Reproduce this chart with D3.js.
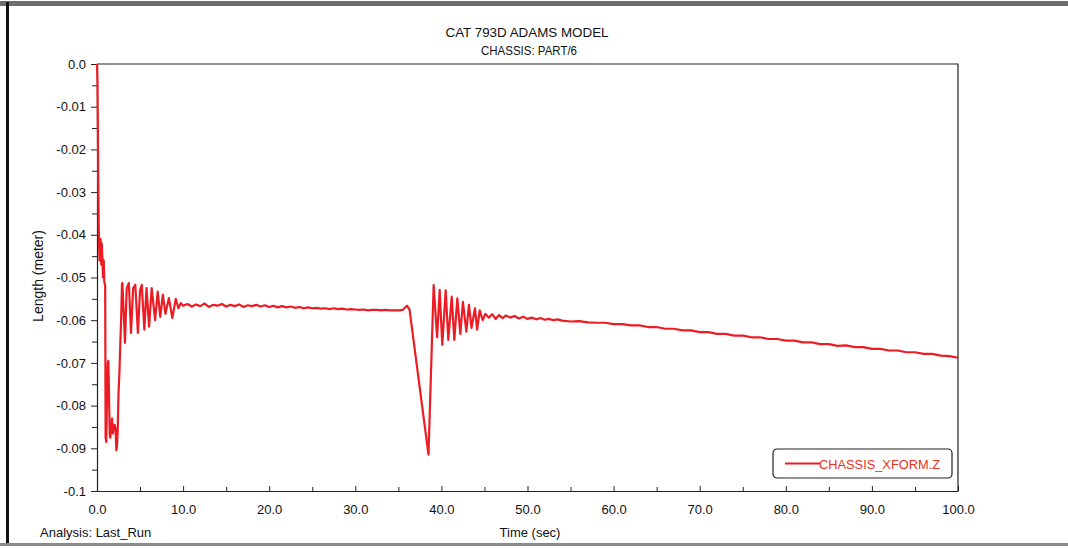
<!DOCTYPE html>
<html>
<head>
<meta charset="utf-8">
<script src="https://cdn.jsdelivr.net/npm/d3@7"></script>
<style>
  html, body { margin: 0; padding: 0; background: #fff; }
  svg { display: block; }
  text { font-family: "Liberation Sans", Arial, sans-serif; fill: #111; }
</style>
</head>
<body>
<svg id="chart" width="1068" height="548"></svg>
<script>
// Chassis vertical displacement from the ADAMS run (time in s, length in m)
const timeSec = [
  0.00, 0.05, 0.10, 0.15, 0.20, 0.25, 0.30, 0.35, 0.42, 0.50, 0.55, 0.62, 0.70, 0.78, 0.85, 0.95,
  1.00, 1.08, 1.15, 1.25, 1.32, 1.40, 1.48, 1.55, 1.65, 1.75, 1.85, 1.95, 2.05, 2.15, 2.25, 2.32,
  2.40, 2.50, 2.60, 2.70, 2.80, 2.90, 2.95,
  3.25, 3.45, 3.70, 3.95, 4.20, 4.45, 4.75, 5.00, 5.20, 5.50, 5.75, 6.05, 6.35, 6.75, 7.05, 7.35,
  7.65, 7.95, 8.35, 8.75, 9.15, 9.45, 9.75,
  10.0, 10.5, 11.0, 11.5, 12.0, 12.5, 13.0, 13.5, 14.0, 14.5, 15.0, 15.5, 16.0, 16.5, 17.0, 17.5,
  18.0, 18.5, 19.0, 19.5, 20.0, 20.5, 21.0, 21.5, 22.0, 22.5, 23.0, 23.5, 24.0, 24.5, 25.0, 25.5,
  26.0, 26.5, 27.0, 27.5, 28.0, 28.5, 29.0, 29.5, 30.0, 30.5, 31.0, 31.5, 32.0, 32.5, 33.0, 33.5,
  34.0, 34.5, 35.0, 35.5, 36.0, 36.3,
  38.5, 39.1, 39.5, 39.8, 40.1, 40.5, 40.8, 41.2, 41.5, 41.85, 42.2, 42.5, 42.9, 43.2, 43.5, 43.9,
  44.15, 44.45, 44.8, 45.1, 45.5, 45.9, 46.3, 46.7, 47.1, 47.5,
  48.0, 48.5, 49.0, 49.5, 50.0, 50.5, 51.0, 51.5, 52.0, 52.5, 53.0, 53.5, 54.0, 55.0, 56.0, 57.0,
  58.0, 59.0, 60.0, 61.0, 62.0, 63.0, 64.0, 65.0, 66.0, 67.0, 68.0, 69.0, 70.0, 71.0, 72.0, 73.0,
  74.0, 75.0, 76.0, 77.0, 78.0, 79.0, 80.0, 81.0, 82.0, 83.0, 84.0, 85.0, 86.0, 87.0, 88.0, 89.0,
  90.0, 91.0, 92.0, 93.0, 94.0, 95.0, 96.0, 97.0, 98.0, 99.0, 100.0
];
const chassisZ = [
  0.000, -0.004, -0.015, -0.028, -0.038, -0.043, -0.046, -0.042, -0.041, -0.047, -0.042, -0.045, -0.050, -0.046, -0.051, -0.052,
  -0.0875, -0.0885, -0.080, -0.070, -0.0695, -0.078, -0.087, -0.0875, -0.0845, -0.083, -0.0865, -0.0845, -0.0845, -0.0855, -0.0905, -0.0895,
  -0.086, -0.077, -0.0725, -0.066, -0.060, -0.0515, -0.0513,
  -0.0653, -0.0525, -0.0513, -0.0630, -0.0525, -0.0517, -0.0630, -0.0530, -0.0517, -0.0622, -0.0525, -0.0615, -0.0525, -0.0600, -0.0533, -0.0592,
  -0.0540, -0.0585, -0.0548, -0.0595, -0.0550, -0.0572, -0.0560,
  -0.0566, -0.0562, -0.0568, -0.0563, -0.0567, -0.0561, -0.0569, -0.0564, -0.0566, -0.0562, -0.0568, -0.0564, -0.0567, -0.0563, -0.0569, -0.0565,
  -0.0567, -0.0564, -0.0568, -0.0565, -0.0569, -0.0566, -0.0570, -0.0567, -0.0570, -0.0568, -0.0571, -0.0569, -0.0572, -0.0570, -0.0572, -0.0571,
  -0.0573, -0.0572, -0.0574, -0.0572, -0.0574, -0.0573, -0.0575, -0.0574, -0.0575, -0.0576, -0.0575, -0.0577, -0.0576, -0.0576, -0.0577, -0.0576,
  -0.0577, -0.0577, -0.0577, -0.0576, -0.0566, -0.0575,
  -0.0915, -0.0518, -0.0640, -0.0529, -0.0658, -0.0530, -0.0646, -0.0545, -0.0646, -0.0549, -0.0632, -0.0557, -0.0627, -0.0564, -0.0618, -0.0572,
  -0.0622, -0.0577, -0.0600, -0.0585, -0.0594, -0.0586, -0.0597, -0.0588, -0.0595, -0.0589,
  -0.0594, -0.0590, -0.0596, -0.0592, -0.0597, -0.0594, -0.0598, -0.0595, -0.0599, -0.0597, -0.0600, -0.0598, -0.0601, -0.0603, -0.0602, -0.0605,
  -0.0606, -0.0606, -0.0609, -0.0609, -0.0612, -0.0612, -0.0616, -0.0616, -0.0620, -0.0620, -0.0624, -0.0624, -0.0628, -0.0628, -0.0632, -0.0632,
  -0.0636, -0.0636, -0.0640, -0.0640, -0.0644, -0.0644, -0.0648, -0.0648, -0.0652, -0.0652, -0.0656, -0.0656, -0.0660, -0.0659, -0.0663, -0.0663,
  -0.0667, -0.0667, -0.0671, -0.0671, -0.0675, -0.0675, -0.0679, -0.0679, -0.0683, -0.0684, -0.0688
];

const xTicks = [0, 10, 20, 30, 40, 50, 60, 70, 80, 90, 100];
const xMinorTicks = [5, 15, 25, 35, 45, 55, 65, 75, 85, 95];
const yTicks = [0, -0.01, -0.02, -0.03, -0.04, -0.05, -0.06, -0.07, -0.08, -0.09, -0.1];
const yMinorTicks = [-0.005, -0.015, -0.025, -0.035, -0.045, -0.055, -0.065, -0.075, -0.085, -0.095];
const yTickLabels = ["0.0", "-0.01", "-0.02", "-0.03", "-0.04", "-0.05", "-0.06", "-0.07", "-0.08", "-0.09", "-0.1"];
const titleLines = ["CAT 793D ADAMS MODEL", "CHASSIS: PART/6"];
const seriesName = "CHASSIS_XFORM.Z";

const svg = d3.select("#chart");
const W = 1068, H = 548;
const plot = { left: 97, right: 958, top: 64, bottom: 491 };
const lineColor = "#ec1c24";

// page frame
svg.append("rect").attr("x", 0).attr("y", 0).attr("width", W).attr("height", H).attr("fill", "#fff");
svg.append("rect").attr("x", 0).attr("y", 1).attr("width", W).attr("height", 5).attr("fill", "#6e6e6e");
svg.append("rect").attr("x", 6).attr("y", 2).attr("width", 3).attr("height", H - 4).attr("fill", "#111");
svg.append("rect").attr("x", 0).attr("y", 543).attr("width", W).attr("height", 3).attr("fill", "#8a8a8a");

const x = d3.scaleLinear().domain([0, 100]).range([plot.left, plot.right]);
const y = d3.scaleLinear().domain([-0.1, 0]).range([plot.bottom, plot.top]);

// titles (condensed lettering)
const titleWidths = [163, 96];
const titleCenters = [527, 529];
svg.selectAll("text.title").data(titleLines).join("text")
  .attr("class", "title")
  .attr("x", (d, i) => titleCenters[i]).attr("y", (d, i) => 37 + i * 18)
  .attr("text-anchor", "middle")
  .attr("textLength", (d, i) => titleWidths[i])
  .attr("lengthAdjust", "spacingAndGlyphs")
  .style("font-size", "13.5px")
  .text(d => d);

// plot border (top and right edges)
svg.append("path")
  .attr("d", `M${plot.left},${plot.top}H${plot.right}V${plot.bottom}`)
  .attr("fill", "none").attr("stroke", "#222").attr("stroke-width", 1.2);

// y axis
const yAxis = d3.axisLeft(y).tickValues(yTicks).tickSize(6).tickPadding(5)
  .tickFormat((d, i) => yTickLabels[i]);
const gy = svg.append("g").attr("transform", `translate(${plot.left},0)`).call(yAxis);
gy.select(".domain").attr("stroke", "#222").attr("stroke-width", 1.2);
gy.selectAll(".tick line").attr("stroke", "#222");
gy.selectAll(".tick text").style("font-size", "13px").attr("fill", "#111");
svg.append("g").attr("transform", `translate(${plot.left},0)`)
  .call(d3.axisLeft(y).tickValues(yMinorTicks).tickSize(5).tickFormat(""))
  .call(g => g.select(".domain").remove())
  .selectAll(".tick line").attr("stroke", "#222");

// x axis
const xAxis = d3.axisBottom(x).tickValues(xTicks).tickSizeInner(-5).tickSizeOuter(0).tickPadding(14)
  .tickFormat(d3.format(".1f"));
const gx = svg.append("g").attr("transform", `translate(0,${plot.bottom})`).call(xAxis);
gx.select(".domain").attr("stroke", "#222").attr("stroke-width", 1.2);
gx.selectAll(".tick line").attr("stroke", "#222");
gx.selectAll(".tick text").style("font-size", "13px").attr("fill", "#111");
svg.append("g").attr("transform", `translate(0,${plot.bottom})`)
  .call(d3.axisBottom(x).tickValues(xMinorTicks).tickSizeInner(-4).tickSizeOuter(0).tickFormat(""))
  .call(g => g.select(".domain").remove())
  .selectAll(".tick line").attr("stroke", "#222");

// axis titles and run info
svg.append("text")
  .attr("transform", "translate(43,276) rotate(-90)")
  .attr("text-anchor", "middle")
  .style("font-size", "14px")
  .text("Length (meter)");
svg.append("text").attr("x", 530).attr("y", 537).attr("text-anchor", "middle")
  .style("font-size", "13px").text("Time (sec)");
svg.append("text").attr("x", 40).attr("y", 537)
  .style("font-size", "13px").text("Analysis:  Last_Run");

// data curve
const points = timeSec.map((t, i) => [t, chassisZ[i]]);
svg.append("path")
  .datum(points)
  .attr("fill", "none")
  .attr("stroke", lineColor)
  .attr("stroke-width", 2.2)
  .attr("stroke-linejoin", "round")
  .attr("d", d3.line().x(d => x(d[0])).y(d => y(d[1])));

// legend
const lg = svg.append("g").attr("transform", "translate(773,449)");
lg.append("rect").attr("width", 179).attr("height", 29).attr("rx", 4)
  .attr("fill", "#fff").attr("stroke", "#222").attr("stroke-width", 1.2);
lg.append("line").attr("x1", 12).attr("x2", 47).attr("y1", 14.5).attr("y2", 14.5)
  .attr("stroke", lineColor).attr("stroke-width", 2);
lg.append("text").attr("x", 46).attr("y", 19.5)
  .attr("textLength", 121).attr("lengthAdjust", "spacingAndGlyphs")
  .style("font-size", "13px").style("fill", "#e8321e")
  .text(seriesName);
</script>
</body>
</html>
